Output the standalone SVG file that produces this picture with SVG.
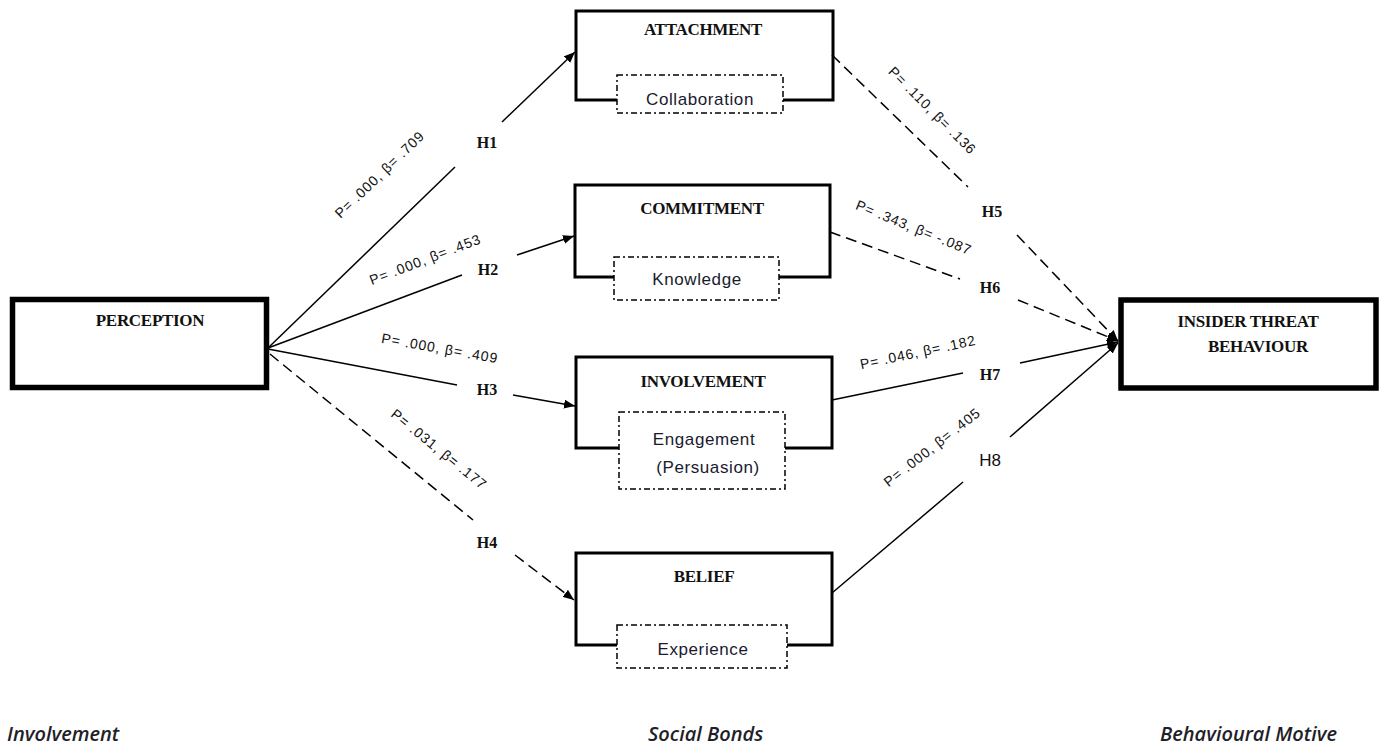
<svg xmlns="http://www.w3.org/2000/svg" width="1380" height="746" viewBox="0 0 1380 746">
<style>
.bg{fill:#fff}
.bigbox{fill:#fff;stroke:#000;stroke-width:5.5}
.box{fill:none;stroke:#000;stroke-width:3}
.inner{fill:#fff;stroke:#000;stroke-width:1.5;stroke-dasharray:6 3 2 3}
.title{font-family:"Liberation Serif",serif;font-weight:bold;font-size:17px;fill:#111;text-anchor:middle;letter-spacing:-0.3px}
.sub{font-family:"Liberation Sans",sans-serif;font-size:17px;fill:#1a1a2e;text-anchor:middle;letter-spacing:0.6px}
.ln{fill:none;stroke:#000;stroke-width:1.5}
.dash{stroke-dasharray:11 6}
.pl{font-family:"Liberation Sans",sans-serif;font-size:14px;fill:#111;text-anchor:middle;letter-spacing:0.9px}
.h{font-family:"Liberation Serif",serif;font-weight:bold;font-size:16px;fill:#111;text-anchor:middle}
.foot{font-family:"Open Sans",sans-serif;font-style:italic;font-weight:600;font-size:20px;fill:#1f1f2a}
</style>
<defs>
<marker id="arr" markerUnits="userSpaceOnUse" markerWidth="11" markerHeight="9" refX="11" refY="4.5" orient="auto">
<path d="M0,0 L11,4.5 L0,9 z" fill="#000"/>
</marker>
</defs>
<rect class="bg" x="0" y="0" width="1380" height="746"/>

<g id="connectors">
<!-- H1 -->
<line class="ln" x1="268" y1="348" x2="455" y2="167"/>
<line class="ln" x1="502" y1="122" x2="575" y2="52" marker-end="url(#arr)"/>
<!-- H2 -->
<line class="ln" x1="268" y1="348" x2="462" y2="275"/>
<line class="ln" x1="517" y1="255" x2="574" y2="236" marker-end="url(#arr)"/>
<!-- H3 -->
<line class="ln" x1="268" y1="349" x2="457" y2="385"/>
<line class="ln" x1="513" y1="395" x2="575" y2="406" marker-end="url(#arr)"/>
<!-- H4 -->
<line class="ln dash" x1="270" y1="354" x2="473" y2="520"/>
<line class="ln dash" x1="515" y1="555" x2="574" y2="600" marker-end="url(#arr)"/>
<!-- H5 -->
<line class="ln dash" x1="832" y1="55" x2="968" y2="187"/>
<line class="ln dash" x1="1017" y1="235" x2="1118" y2="341" marker-end="url(#arr)"/>
<!-- H6 -->
<line class="ln dash" x1="830" y1="232" x2="960" y2="279"/>
<line class="ln dash" x1="1018" y1="300" x2="1118" y2="341" marker-end="url(#arr)"/>
<!-- H7 -->
<line class="ln" x1="832" y1="400" x2="963" y2="373"/>
<line class="ln" x1="1020" y1="363" x2="1118" y2="342" marker-end="url(#arr)"/>
<!-- H8 -->
<line class="ln" x1="832" y1="593" x2="963" y2="482"/>
<line class="ln" x1="1010" y1="437" x2="1118" y2="343" marker-end="url(#arr)"/>

<text class="pl" transform="translate(383,178) rotate(-44)">P= .000, β= .709</text>
<text class="pl" transform="translate(427,264) rotate(-21)">P= .000, β= .453</text>
<text class="pl" transform="translate(439,353) rotate(10)">P= .000, β= .409</text>
<text class="pl" transform="translate(436,453) rotate(39)">P= .031, β= .177</text>
<text class="pl" transform="translate(929,114) rotate(45)">P= .110, β= .136</text>
<text class="pl" transform="translate(912,232) rotate(22)">P= .343, β= -.087</text>
<text class="pl" transform="translate(919,357) rotate(-12)">P= .046, β= .182</text>
<text class="pl" transform="translate(935,451) rotate(-38)">P= .000, β= .405</text>

<text class="h" x="487" y="148">H1</text>
<text class="h" x="488" y="275">H2</text>
<text class="h" x="487" y="395">H3</text>
<text class="h" x="487" y="548">H4</text>
<text class="h" x="992" y="217">H5</text>
<text class="h" x="990" y="293">H6</text>
<text class="h" x="990" y="380">H7</text>
<text x="990" y="466" style="font-family:'Liberation Sans',sans-serif;font-size:17px;fill:#111;text-anchor:middle">H8</text>
</g>

<g id="perception">
<rect class="bigbox" x="12.5" y="299.5" width="254" height="88"/>
<text class="title" x="150" y="326">PERCEPTION</text>
</g>

<g id="attachment">
<rect class="box" x="576" y="11" width="257" height="89"/>
<rect class="inner" x="617" y="75" width="166" height="38"/>
<text class="title" x="703" y="35">ATTACHMENT</text>
<text class="sub" x="700" y="105">Collaboration</text>
</g>

<g id="commitment">
<rect class="box" x="575" y="185" width="255" height="92"/>
<rect class="inner" x="614" y="257" width="165" height="43"/>
<text class="title" x="702" y="214">COMMITMENT</text>
<text class="sub" x="697" y="285">Knowledge</text>
</g>

<g id="involvement">
<rect class="box" x="576" y="357" width="256" height="91"/>
<rect class="inner" x="619" y="412" width="166" height="77"/>
<text class="title" x="703" y="387">INVOLVEMENT</text>
<text class="sub" x="704" y="445">Engagement</text>
<text class="sub" x="708" y="473">(Persuasion)</text>
</g>

<g id="belief">
<rect class="box" x="576" y="553" width="256" height="92"/>
<rect class="inner" x="617" y="625" width="170" height="43"/>
<text class="title" x="704" y="582">BELIEF</text>
<text class="sub" x="703" y="655">Experience</text>
</g>

<g id="insider">
<rect class="bigbox" x="1121" y="300" width="255" height="88"/>
<text class="title" x="1248" y="327">INSIDER THREAT</text>
<text class="title" x="1258" y="352">BEHAVIOUR</text>
</g>

<g id="footer">
<text class="foot" x="7" y="741">Involvement</text>
<text class="foot" x="648" y="741">Social Bonds</text>
<text class="foot" x="1160" y="741">Behavioural Motive</text>
</g>
</svg>
